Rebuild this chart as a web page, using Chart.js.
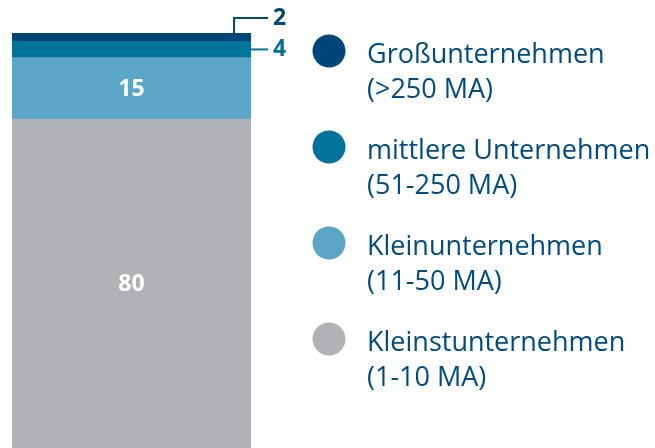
<!DOCTYPE html>
<html><head><meta charset="utf-8">
<script src="https://cdn.jsdelivr.net/npm/chart.js@4/dist/chart.umd.min.js"></script>
<style>html,body{margin:0;padding:0;background:#fff;}#wrap{width:655px;height:448px;}</style>
</head><body><div id="wrap"><canvas id="c" width="655" height="448"></canvas></div>
<script>
const categories = [''];
const seriesNames = ['Kleinstunternehmen', 'Kleinunternehmen', 'mittlere Unternehmen', 'Großunternehmen'];
const seriesSub = ['(1-10 MA)', '(11-50 MA)', '(51-250 MA)', '(>250 MA)'];
const seriesValues = [[80], [15], [4], [2]];
const seriesColors = ['#b1b2b6', '#5ba6c6', '#00739a', '#004678'];
const labelColors = ['#ffffff', '#ffffff', '#00739a', '#004678'];
const textColor = '#004b80';
const FONT = '"Open Sans", sans-serif';

const overlay = {
  id: 'overlay',
  afterDatasetsDraw(chart) {
    const ctx = chart.ctx;
    ctx.save();
    chart.data.datasets.forEach((ds, i) => {
      const el = chart.getDatasetMeta(i).data[0];
      const top = el.y, bottom = el.base;
      const right = el.x + el.width / 2;
      ctx.font = 'bold 23px ' + FONT;
      ctx.textBaseline = 'middle';
      if (i < 2) {
        ctx.fillStyle = labelColors[i];
        ctx.textAlign = 'center';
        const visBottom = Math.min(bottom, chart.chartArea.bottom);
        ctx.fillText(String(ds.data[0]), el.x, (top + visBottom) / 2 + 1);
      } else if (i === 2) {
        const y = (top + bottom) / 2;
        ctx.strokeStyle = labelColors[i]; ctx.lineWidth = 2;
        ctx.beginPath(); ctx.moveTo(right, y); ctx.lineTo(right + 17, y); ctx.stroke();
        ctx.fillStyle = labelColors[i]; ctx.textAlign = 'left';
        ctx.fillText(String(ds.data[0]), right + 22, y);
      } else {
        const y = top - 15;
        const x = right - 17;
        ctx.strokeStyle = labelColors[i]; ctx.lineWidth = 2;
        ctx.beginPath(); ctx.moveTo(x, top); ctx.lineTo(x, y); ctx.lineTo(right + 17, y); ctx.stroke();
        ctx.fillStyle = labelColors[i]; ctx.textAlign = 'left';
        ctx.fillText(String(ds.data[0]), right + 22, y);
      }
    });
    const n = chart.data.datasets.length;
    for (let k = 0; k < n; k++) {
      const i = n - 1 - k;
      const cy = 51 + k * 96;
      ctx.fillStyle = seriesColors[i];
      ctx.beginPath(); ctx.arc(329, cy, 16.5, 0, Math.PI * 2); ctx.fill();
      ctx.fillStyle = textColor;
      ctx.font = '27px ' + FONT;
      ctx.textAlign = 'left';
      ctx.textBaseline = 'alphabetic';
      ctx.fillText(seriesNames[i], 367, cy + 12);
      ctx.fillText(seriesSub[i], 367, cy + 47);
    }
    ctx.restore();
  }
};

new Chart(document.getElementById('c'), {
  type: 'bar',
  data: {
    labels: categories,
    datasets: seriesNames.map((n, i) => ({
      label: n,
      data: seriesValues[i],
      backgroundColor: seriesColors[i],
      borderWidth: 0,
      barPercentage: 1,
      categoryPercentage: 1
    }))
  },
  options: {
    responsive: false,
    animation: false,
    layout: { padding: { left: 12, right: 404, top: 33, bottom: 0 } },
    plugins: { legend: { display: false }, tooltip: { enabled: false } },
    scales: {
      x: { stacked: true, display: false },
      y: { stacked: true, display: false, min: 0, max: 101 }
    }
  },
  plugins: [overlay]
});
</script></body></html>
